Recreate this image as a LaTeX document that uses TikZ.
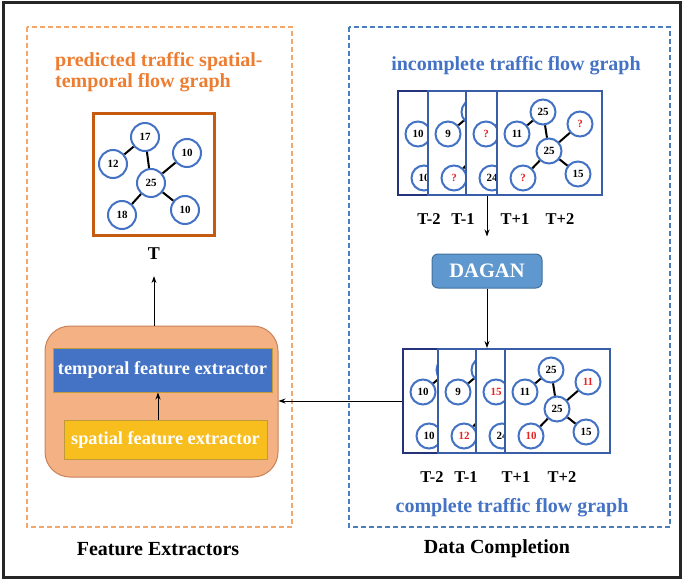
\documentclass[tikz,border=0pt]{standalone}
\usepackage{fontspec}
\setmainfont{Liberation Serif}
\usetikzlibrary{arrows.meta}
\definecolor{nodeblue}{HTML}{4472C4}
\definecolor{framenavy}{HTML}{25347A}
\definecolor{frameblue}{HTML}{3A5DA8}
\definecolor{predorange}{HTML}{C55A11}
\definecolor{titleorange}{HTML}{ED7D31}
\definecolor{dashorange}{HTML}{F4A76A}
\definecolor{dashblue}{HTML}{4A7EBB}
\definecolor{qred}{HTML}{E82323}
\definecolor{boxfill}{HTML}{F4B183}
\definecolor{boxdraw}{HTML}{C9825A}
\definecolor{spatyellow}{HTML}{F7BE1E}
\definecolor{golddraw}{HTML}{BF9A3A}
\definecolor{daganfill}{HTML}{5F97CF}
\definecolor{dagandraw}{HTML}{41719C}
\newcommand{\redq}{\textcolor{qred}{?}}
\newcommand{\redn}[1]{\textcolor{qred}{#1}}
\newcommand{\gframe}[9]{%
  \begin{scope}[shift={(#2)}]
    \node[gframe, draw=#3] (#1) at (52.5,52) {};
    \node[gnode] (#1a) at (46,21) {#4};
    \node[gnode] (#1b) at (20,43) {#5};
    \node[gnode] (#1c) at (83,33) {#6};
    \node[gnode] (#1d) at (52,60) {#7};
    \node[gnode] (#1e) at (26,87) {#8};
    \node[gnode] (#1f) at (81,83) {#9};
    \draw[gedge] (#1a) -- (#1b) (#1a) -- (#1d) (#1d) -- (#1c) (#1d) -- (#1e) (#1d) -- (#1f);
  \end{scope}}
\begin{document}
\begin{tikzpicture}[x=1pt,y=-1pt,
  gnode/.style={circle, draw=nodeblue, line width=2pt, fill=white, minimum size=25pt, inner sep=0pt, font=\fontsize{11}{12}\selectfont\bfseries},
  lnode/.style={gnode, minimum size=28pt},
  gframe/.style={rectangle, fill=white, line width=2pt, minimum width=105pt, minimum height=104pt, inner sep=0pt},
  gedge/.style={line width=2pt, black},
  arr/.style={-{Stealth[length=7pt,width=5pt]}, line width=1pt, black},
  title/.style={font=\fontsize{20}{21}\selectfont\bfseries, inner sep=0pt},
  tlab/.style={font=\fontsize{16.5}{18}\selectfont\bfseries, inner sep=0pt}]
\useasboundingbox (0,0) rectangle (684,580);
% outer frame and group boxes
\draw[line width=3pt, black!85] (3,3) rectangle (680,577);
\draw[dashorange, line width=1.2pt, dash pattern=on 5pt off 3pt] (27,27) rectangle (292,527);
\draw[dashblue, line width=1.2pt, dash pattern=on 5pt off 3pt] (349,27) rectangle (670,527);

% titles
\node[title, text=titleorange, align=left, anchor=west] (ptitle) at (55,72.5) {predicted traffic spatial-\\temporal flow graph};
\node[title, text=nodeblue] (ititle) at (516,66) {incomplete traffic flow graph};
\node[title, text=nodeblue] (ctitle) at (512,508) {complete traffic flow graph};
\node[title, text=black] (fe) at (158,549) {Feature Extractors};
\node[title, text=black] (dc) at (497,549) {Data Completion};

% predicted graph
\node[draw=predorange, line width=3pt, fill=white, minimum width=121pt, minimum height=121pt, inner sep=0pt] (pbox) at (153.5,174.5) {};
\node[lnode] (p17) at (145,137) {17};
\node[lnode] (p12) at (113,164) {12};
\node[lnode] (p10a) at (187,153) {10};
\node[lnode] (p25) at (151,183) {25};
\node[lnode] (p18) at (122,215) {18};
\node[lnode] (p10b) at (185,210) {10};
\draw[gedge] (p17) -- (p12) (p17) -- (p25) (p25) -- (p10a) (p25) -- (p18) (p25) -- (p10b);
\node[font=\fontsize{18}{20}\selectfont\bfseries, inner sep=0pt] (Tlab) at (154,254) {T};

% incomplete frames
\gframe{ta}{398,91}{framenavy}{25}{10}{?}{25}{10}{15}
\gframe{tb}{428,91}{frameblue}{25}{9}{?}{25}{\redq}{15}
\gframe{tc}{466,91}{frameblue}{25}{\redq}{?}{25}{24}{15}
\gframe{td}{497,91}{frameblue}{25}{11}{\redq}{25}{\redq}{15}
\node[tlab] (lt1) at (429,219) {T-2};
\node[tlab] (lt2) at (463,219) {T-1};
\node[tlab] (lt3) at (515,219) {T+1};
\node[tlab] (lt4) at (560,219) {T+2};

% DAGAN
\node[draw=dagandraw, fill=daganfill, rounded corners=6pt, line width=1pt, minimum width=110pt, minimum height=34pt, text=white, font=\fontsize{20.5}{22}\selectfont\bfseries] (dagan) at (487,271) {DAGAN};

% complete frames
\gframe{ba}{403,349}{framenavy}{25}{10}{11}{25}{10}{15}
\gframe{bb}{438,349}{frameblue}{25}{9}{11}{25}{\redn{12}}{15}
\gframe{bc}{476,349}{frameblue}{25}{\redn{15}}{11}{25}{24}{15}
\gframe{bd}{505,349}{frameblue}{25}{11}{\redn{11}}{25}{\redn{10}}{15}
\node[tlab] (lb1) at (432,477) {T-2};
\node[tlab] (lb2) at (466,477) {T-1};
\node[tlab] (lb3) at (516,477) {T+1};
\node[tlab] (lb4) at (562,477) {T+2};

% feature extractors
\node[draw=boxdraw, fill=boxfill, rounded corners=25pt, line width=1pt, minimum width=233pt, minimum height=151pt] (fbox) at (161.5,401.5) {};
\node[draw=golddraw, fill=nodeblue, line width=1pt, minimum width=219pt, minimum height=44pt, inner sep=0pt, text=white, font=\fontsize{18.4}{20}\selectfont\bfseries] (temporal) at (162.5,370) {temporal feature extractor};
\node[draw=golddraw, fill=spatyellow, line width=1pt, minimum width=203pt, minimum height=39pt, inner sep=0pt, text=white, font=\fontsize{18.3}{20}\selectfont\bfseries] (spatial) at (165.5,439.5) {spatial feature extractor};

% arrows
\draw[arr] ([xshift=-7.5pt]spatial.north) -- ([xshift=-7.5pt]spatial.north |- temporal.south);
\draw[arr] (fbox.north -| Tlab) -- ([yshift=-16pt]Tlab.south);
\draw[arr] (ba.west) -- (ba.west -| fbox.east);
\draw[arr] (tc.south -| dagan.north) -- ([yshift=17pt]dagan.north);
\draw[arr] (dagan.south) -- (dagan.south |- bc.north);
\end{tikzpicture}
\end{document}
